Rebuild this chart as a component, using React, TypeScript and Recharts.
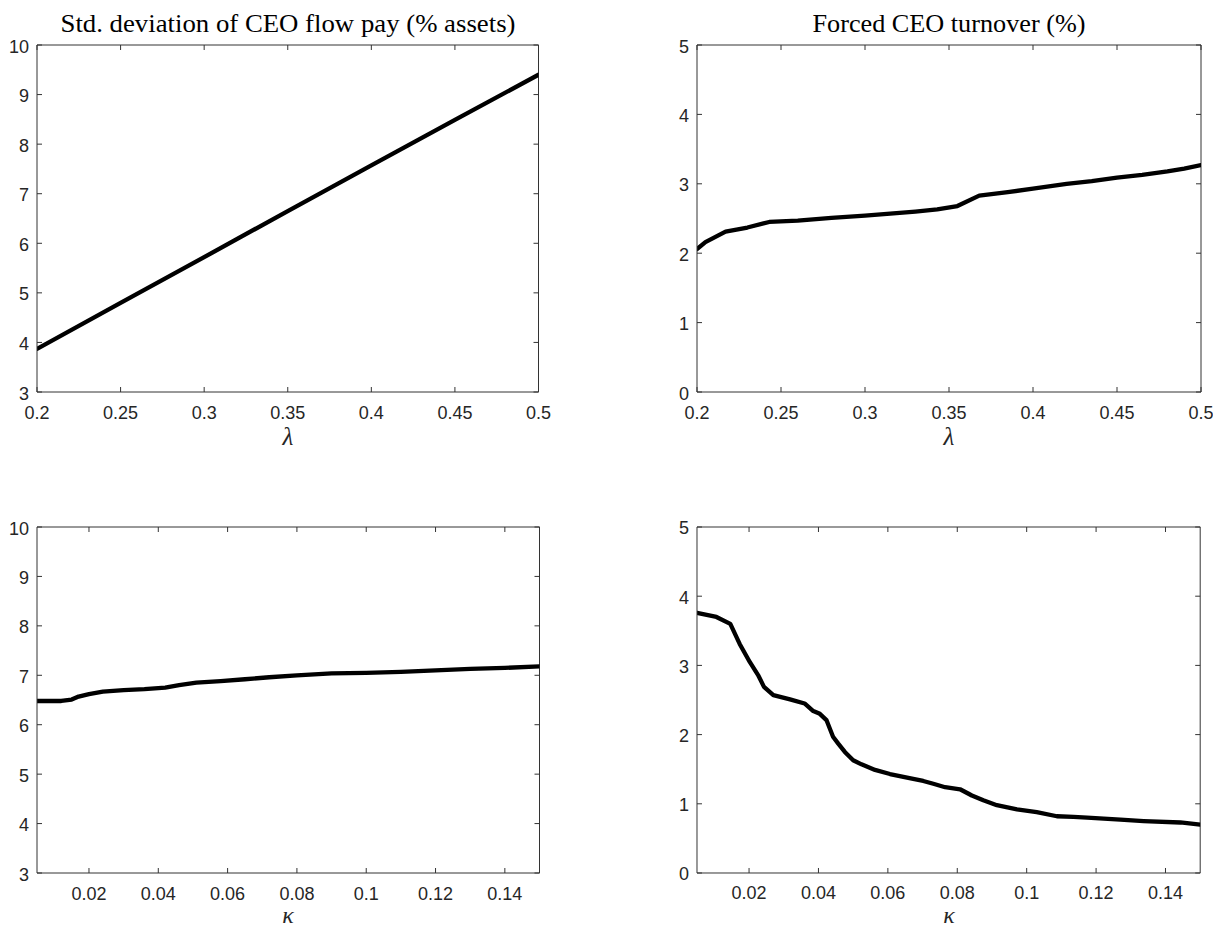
import React from "react";
import { LineChart, Line, XAxis, YAxis, ReferenceLine } from "recharts";

// ---------- data ----------
const lambdaPay = [0.2, 0.25, 0.3, 0.35, 0.4, 0.45, 0.5];
const payVsLambda = [3.87, 4.8, 5.72, 6.65, 7.57, 8.49, 9.4];

const lambdaTurn = [0.2, 0.205, 0.217, 0.23, 0.243, 0.26, 0.28, 0.3, 0.315, 0.33, 0.343, 0.355, 0.368, 0.385, 0.4, 0.42, 0.435, 0.45, 0.465, 0.48, 0.49, 0.5];
const turnVsLambda = [2.06, 2.16, 2.31, 2.37, 2.45, 2.47, 2.51, 2.54, 2.57, 2.6, 2.63, 2.68, 2.83, 2.88, 2.93, 3.0, 3.04, 3.09, 3.13, 3.18, 3.22, 3.27];

const kappaPay = [0.005, 0.012, 0.015, 0.017, 0.02, 0.024, 0.03, 0.036, 0.042, 0.046, 0.051, 0.058, 0.065, 0.072, 0.08, 0.09, 0.1, 0.11, 0.12, 0.13, 0.14, 0.15];
const payVsKappa = [6.48, 6.48, 6.51, 6.57, 6.62, 6.67, 6.7, 6.72, 6.75, 6.8, 6.85, 6.88, 6.92, 6.96, 7.0, 7.04, 7.05, 7.07, 7.1, 7.13, 7.15, 7.18];

const kappaTurn = [0.005, 0.0106, 0.0146, 0.0173, 0.0202, 0.0226, 0.0243, 0.027, 0.0318, 0.036, 0.0385, 0.0404, 0.0423, 0.0442, 0.0457, 0.0476, 0.05, 0.0524, 0.0563, 0.0606, 0.0673, 0.0702, 0.0731, 0.0765, 0.0808, 0.0842, 0.0875, 0.0914, 0.0972, 0.1029, 0.1087, 0.1135, 0.1174, 0.127, 0.1337, 0.1443, 0.15];
const turnVsKappa = [3.76, 3.7, 3.6, 3.31, 3.05, 2.86, 2.69, 2.57, 2.51, 2.45, 2.34, 2.3, 2.21, 1.97, 1.87, 1.75, 1.63, 1.57, 1.49, 1.43, 1.36, 1.33, 1.29, 1.24, 1.21, 1.12, 1.05, 0.98, 0.92, 0.88, 0.82, 0.81, 0.8, 0.77, 0.75, 0.73, 0.7];

const lambdaTicks = [0.2, 0.25, 0.3, 0.35, 0.4, 0.45, 0.5];
const kappaTicks = [0.02, 0.04, 0.06, 0.08, 0.1, 0.12, 0.14];
const payTicks = [3, 4, 5, 6, 7, 8, 9, 10];
const turnTicks = [0, 1, 2, 3, 4, 5];

const titlePay = "Std. deviation of CEO flow pay (% assets)";
const titleTurn = "Forced CEO turnover (%)";

// ---------- styling ----------
const AX = "#333";
const TXT = "#262626";
const TICKFONT = "'Liberation Sans', Arial, Helvetica, sans-serif";
const SERIF = "'Liberation Serif', 'DejaVu Serif', serif";
const YW = 36;
const XH = 40;
const MT = 15;
const MR = 25;

type PanelProps = {
  xs: number[];
  ys: number[];
  xDomain: [number, number];
  yDomain: [number, number];
  xTicks: number[];
  yTicks: number[];
  x0: number;
  x1: number;
  y0: number;
  y1: number;
};

function Panel(p: PanelProps) {
  const data = p.xs.map((x, i) => ({ x, y: p.ys[i] }));
  const plotW = p.x1 - p.x0;
  const plotH = p.y1 - p.y0;
  const W = YW + plotW + MR;
  const H = MT + plotH + XH;
  const xTick = (t: any) => {
    const { x, y, payload } = t;
    return (
      <g>
        <line x1={x} y1={y} x2={x} y2={y - 5} stroke={AX} strokeWidth={1} />
        <line x1={x} y1={y - plotH} x2={x} y2={y - plotH + 5} stroke={AX} strokeWidth={1} />
        <text x={x} y={y + 26.5} textAnchor="middle" fontSize={18} fontFamily={TICKFONT} fill={TXT}>
          {String(payload.value)}
        </text>
      </g>
    );
  };
  const yTick = (t: any) => {
    const { x, y, payload } = t;
    return (
      <g>
        <line x1={x} y1={y} x2={x + 5} y2={y} stroke={AX} strokeWidth={1} />
        <line x1={x + plotW} y1={y} x2={x + plotW - 5} y2={y} stroke={AX} strokeWidth={1} />
        <text x={x - 8} y={y + 7.5} textAnchor="end" fontSize={18} fontFamily={TICKFONT} fill={TXT}>
          {String(payload.value)}
        </text>
      </g>
    );
  };
  return (
    <div style={{ position: "absolute", left: p.x0 - YW, top: p.y0 - MT }}>
      <LineChart width={W} height={H} data={data} margin={{ top: MT, right: MR, bottom: 0, left: 0 }}>
        <XAxis
          dataKey="x"
          type="number"
          domain={p.xDomain}
          ticks={p.xTicks}
          interval={0}
          allowDataOverflow
          height={XH}
          tickLine={false}
          tickSize={0}
          tickMargin={0}
          axisLine={{ stroke: AX, strokeWidth: 1 }}
          tick={xTick}
        />
        <YAxis
          type="number"
          domain={p.yDomain}
          ticks={p.yTicks}
          interval={0}
          allowDataOverflow
          width={YW}
          tickLine={false}
          tickSize={0}
          tickMargin={0}
          axisLine={{ stroke: AX, strokeWidth: 1 }}
          tick={yTick}
        />
        <ReferenceLine y={p.yDomain[1]} stroke={AX} strokeWidth={1} />
        <ReferenceLine x={p.xDomain[1]} stroke={AX} strokeWidth={1} />
        <Line
          type="linear"
          dataKey="y"
          stroke="#000"
          strokeWidth={4.3}
          dot={false}
          strokeLinejoin="round"
          strokeLinecap="round"
          isAnimationActive={false}
        />
      </LineChart>
    </div>
  );
}

export default function App() {
  return (
    <div style={{ position: "absolute", left: 0, top: 0, width: 1213, height: 930, background: "#fff", overflow: "hidden" }}>
      <Panel xs={lambdaPay} ys={payVsLambda} xDomain={[0.2, 0.5]} yDomain={[3, 10]} xTicks={lambdaTicks} yTicks={payTicks} x0={37} x1={538.5} y0={45} y1={392} />
      <Panel xs={lambdaTurn} ys={turnVsLambda} xDomain={[0.2, 0.5]} yDomain={[0, 5]} xTicks={lambdaTicks} yTicks={turnTicks} x0={697} x1={1201} y0={45} y1={392} />
      <Panel xs={kappaPay} ys={payVsKappa} xDomain={[0.005, 0.15]} yDomain={[3, 10]} xTicks={kappaTicks} yTicks={payTicks} x0={36.5} x1={539} y0={527} y1={873} />
      <Panel xs={kappaTurn} ys={turnVsKappa} xDomain={[0.005, 0.15]} yDomain={[0, 5]} xTicks={kappaTicks} yTicks={turnTicks} x0={697.3} x1={1200.5} y0={527} y1={873} />
      <svg width={1213} height={930} style={{ position: "absolute", left: 0, top: 0, pointerEvents: "none" }}>
        <text x={288} y={31.5} textAnchor="middle" fontSize={25} fontFamily={SERIF} fill="#000" textLength={455} lengthAdjust="spacingAndGlyphs">
          {titlePay}
        </text>
        <text x={949} y={31.5} textAnchor="middle" fontSize={25} fontFamily={SERIF} fill="#000" textLength={273} lengthAdjust="spacingAndGlyphs">
          {titleTurn}
        </text>
        <text x={288} y={445} textAnchor="middle" fontSize={25} fontStyle="italic" fontFamily={SERIF} fill={TXT}>λ</text>
        <text x={949} y={445} textAnchor="middle" fontSize={25} fontStyle="italic" fontFamily={SERIF} fill={TXT}>λ</text>
        <text x={288} y={923} textAnchor="middle" fontSize={24} fontStyle="italic" fontFamily={SERIF} fill={TXT}>κ</text>
        <text x={949} y={923} textAnchor="middle" fontSize={24} fontStyle="italic" fontFamily={SERIF} fill={TXT}>κ</text>
      </svg>
    </div>
  );
}
